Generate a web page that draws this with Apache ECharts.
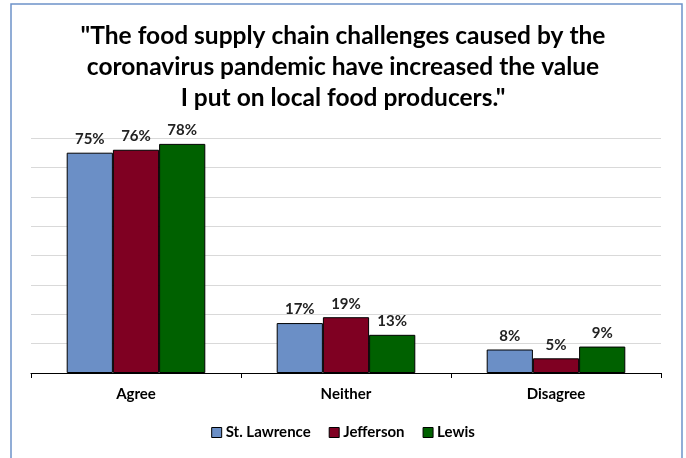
<!DOCTYPE html>
<html>
<head>
<meta charset="utf-8">
<script src="https://cdn.jsdelivr.net/npm/echarts@6/dist/echarts.min.js"></script>
<style>
html,body{margin:0;padding:0;background:#fff;}
#chart{width:686px;height:458px;}
</style>
</head>
<body>
<div id="chart"></div>
<script>
const titleText = '"The food supply chain challenges caused by the\ncoronavirus pandemic have increased the value\nI put on local food producers."';
const categories = ['Agree', 'Neither', 'Disagree'];
const seriesNames = ['St. Lawrence', 'Jefferson', 'Lewis'];
const stLawrence = [75, 17, 8];
const jefferson = [76, 19, 5];
const lewis = [78, 13, 9];
const seriesColors = ['#6b8fc6', '#7f0022', '#006100'];

const FONT = 'Lato, "Liberation Sans", sans-serif';
const chart = echarts.init(document.getElementById('chart'));

const values = [stLawrence, jefferson, lewis];
const series = seriesNames.map((name, i) => ({
  name: name,
  type: 'bar',
  data: values[i],
  barGap: '0%',
  barCategoryGap: '34%',
  itemStyle: { color: seriesColors[i], borderColor: '#000', borderWidth: 1 },
  label: {
    show: true,
    position: 'top',
    distance: 6,
    formatter: p => p.value + '%',
    fontFamily: FONT,
    fontWeight: 'bold',
    fontSize: 15,
    color: '#222'
  }
}));

chart.setOption({
  animation: false,
  backgroundColor: '#fff',
  title: {
    text: titleText,
    left: 'center',
    top: 15,
    textStyle: {
      fontFamily: FONT,
      fontWeight: 'bold',
      fontSize: 24.5,
      lineHeight: 31.2,
      color: '#000'
    }
  },
  graphic: [{
    type: 'rect',
    shape: { x: 11, y: 4, width: 671, height: 470 },
    style: { fill: 'none', stroke: '#6d92c9', lineWidth: 1.5 },
    silent: true,
    z: 100
  }],
  legend: {
    data: seriesNames,
    bottom: 13,
    left: 'center',
    itemWidth: 10,
    itemHeight: 10,
    itemGap: 18,
    icon: 'rect',
    textStyle: { fontFamily: FONT, fontWeight: 'bold', fontSize: 15, color: '#000', padding: [0, 0, 0, -1] },
    itemStyle: { borderColor: '#000', borderWidth: 1 }
  },
  grid: { left: 31, right: 25, top: 138, bottom: 85, containLabel: false },
  xAxis: {
    type: 'category',
    data: categories,
    axisLine: { lineStyle: { color: '#000', width: 1 } },
    axisTick: { show: true, length: 5, lineStyle: { color: '#000' } },
    axisLabel: { fontFamily: FONT, fontWeight: 'bold', fontSize: 15, color: '#000', margin: 14 }
  },
  yAxis: {
    type: 'value',
    min: 0,
    max: 80,
    interval: 10,
    axisLine: { show: false },
    axisTick: { show: false },
    axisLabel: { show: false },
    splitLine: { lineStyle: { color: '#d9d9d9', width: 1 } }
  },
  series: series
});
</script>
</body>
</html>
